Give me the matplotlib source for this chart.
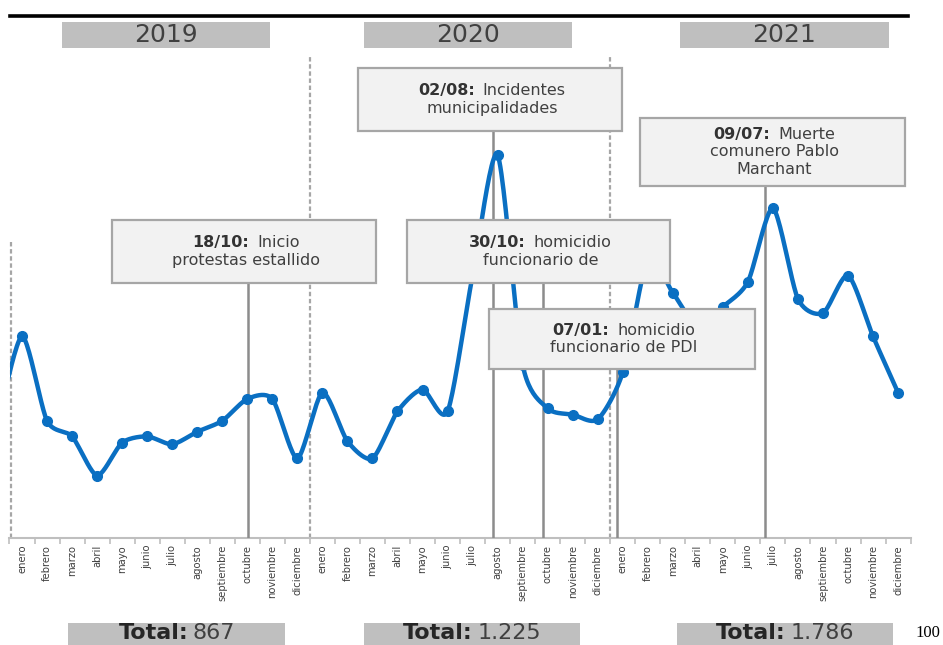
import numpy as np
import matplotlib
matplotlib.use("Agg")
import matplotlib.pyplot as plt
from matplotlib.patches import Rectangle
from matplotlib.lines import Line2D

W, H = 943, 645

meses = ["enero", "febrero", "marzo", "abril", "mayo", "junio", "julio",
         "agosto", "septiembre", "octubre", "noviembre", "diciembre"]
years = ["2019", "2020", "2021"]
totals = ["867", "1.225", "1.786"]

# monthly counts (dic 2018 only shows as the clipped start of the line)
dic_2018 = 71
v2019 = [129, 75, 65, 40, 61, 65, 60, 68, 75, 89, 89, 51]
v2020 = [93, 62, 51, 81, 95, 81, 168, 245, 111, 83, 79, 76]
v2021 = [106, 178, 157, 135, 148, 164, 211, 153, 144, 168, 129, 93]

# event markers: position on the month axis, bold date, text lines
event_pos = [9.03, 18.82, 20.8, 23.77, 29.68]
event_date = ["18/10:", "02/08:", "30/10:", "07/01:", "09/07:"]
event_text = [["Inicio", "protestas estallido"],
              ["Incidentes", "municipalidades"],
              ["homicidio", "funcionario de"],
              ["homicidio", "funcionario de PDI"],
              ["Muerte", "comunero Pablo", "Marchant"]]
# box corners in pixels (x0, y0, x1, y1)
event_box = [(112, 220, 376, 283), (358, 68, 622, 131), (407, 220, 670, 283),
             (489, 309, 755, 369), (640, 118, 905, 186)]

BLUE = "#0a6fc2"
GREY = "#a6a6a6"
DARK = "#404040"


def fx(x):
    return x / W


def fy(y):
    return 1 - y / H


def smooth(xs, ys, n=24, f=1 / 8):
    # smoothed line through the points (bezier, tangents from neighbours)
    p = np.column_stack([xs, ys]).astype(float)
    p = np.vstack([p[0], p, p[-1]])
    t = np.linspace(0, 1, n)[:, None]
    out = []
    for i in range(1, len(p) - 2):
        p0, p1, p2, p3 = p[i - 1], p[i], p[i + 1], p[i + 2]
        c1 = p1 + (p2 - p0) * f
        c2 = p2 - (p3 - p1) * f
        out.append((1 - t) ** 3 * p1 + 3 * (1 - t) ** 2 * t * c1 + 3 * (1 - t) * t ** 2 * c2 + t ** 3 * p2)
    return np.vstack(out)


fig = plt.figure(figsize=(W / 100, H / 100), dpi=100)

# plot area
x0_px, x1_px, base_px, top_px = 9.5, 910.6, 538, 16
ax = fig.add_axes([fx(x0_px), fy(base_px), fx(x1_px - x0_px), (base_px - top_px) / H])
k = 0.64
ax.set_ylim(0, (base_px - top_px) * k)
ax.set_xlim(-0.5, 35.5)

vals = [dic_2018] + v2019 + v2020 + v2021
xs = np.arange(-1, 36)
curve = smooth(xs, vals)
ax.plot(curve[:, 0], curve[:, 1], color=BLUE, lw=3.2, zorder=4, solid_capstyle="round")
ax.plot(xs, vals, "o", color=BLUE, ms=7, zorder=5)

# year separators
for xsep, ytop in [(-0.45, 240), (11.5, 55), (23.5, 55)]:
    ax.axvline(xsep, ymin=0, ymax=(base_px - ytop) / (base_px - top_px),
               color=GREY, lw=1.6, ls=(0, (2, 1.2)), zorder=2, clip_on=False)

# event lines
for pos, box in zip(event_pos, event_box):
    ax.axvline(pos, ymin=0, ymax=(base_px - box[3]) / (base_px - top_px),
               color="#8c8c8c", lw=1.8, zorder=3)

for side in ["left", "right", "top"]:
    ax.spines[side].set_visible(False)
ax.spines["bottom"].set_color("#bfbfbf")
ax.spines["bottom"].set_linewidth(1.5)
ax.set_yticks([])
ax.set_xticks(range(36))
ax.set_xticklabels(meses * 3, rotation=90, fontsize=7.2, color=DARK)
ax.tick_params(axis="x", which="major", length=0, pad=5)
ax.set_xticks(np.arange(-0.5, 36, 1), minor=True)
ax.tick_params(axis="x", which="minor", length=4, color="#bfbfbf", width=1.2)
ax.patch.set_visible(False)

# top rule
fig.add_artist(Line2D([fx(10), fx(908)], [fy(16), fy(16)], color="black", lw=2.6))

# year headers and totals
year_x = [(62, 270), (364, 572), (680, 889)]
total_x = [(68, 285), (364, 580), (677, 893)]
for yr, (a, b) in zip(years, year_x):
    fig.add_artist(Rectangle((fx(a), fy(48)), fx(b - a), 26 / H, facecolor="#bfbfbf",
                             edgecolor="none", zorder=5))
    fig.text(fx((a + b) / 2), fy(35.5), yr, ha="center", va="center", fontsize=18,
             color=DARK, zorder=6)
for (a, b) in total_x:
    fig.add_artist(Rectangle((fx(a), fy(660)), fx(b - a), 37 / H, facecolor="#bfbfbf",
                             edgecolor="none", zorder=5))

renderer = fig.canvas.get_renderer()


def mixed(cx, cy, bold, rest, size, c1, c2, gap):
    t1 = fig.text(0, fy(cy), bold, weight="bold", fontsize=size, color=c1,
                  ha="left", va="center", zorder=7)
    t2 = fig.text(0, fy(cy), rest, fontsize=size, color=c2,
                  ha="left", va="center", zorder=7)
    w1 = t1.get_window_extent(renderer).width
    w2 = t2.get_window_extent(renderer).width
    left = cx - (w1 + gap + w2) / 2
    t1.set_x(fx(left))
    t2.set_x(fx(left + w1 + gap))


for tot, (a, b) in zip(totals, total_x):
    mixed((a + b) / 2, 633, "Total:", tot, 16, "#262626", DARK, 4)

# event boxes
for date, lines, (a, b, c, d) in zip(event_date, event_text, event_box):
    fig.add_artist(Rectangle((fx(a), fy(d)), fx(c - a), (d - b) / H, facecolor="#f2f2f2",
                             edgecolor=GREY, lw=1.6, zorder=6))
    cx = (a + c) / 2 + 2
    n = len(lines)
    step = 17.5
    ymid = (b + d) / 2
    ys = [ymid + (i - (n - 1) / 2) * step for i in range(n)]
    mixed(cx, ys[0], date, lines[0], 11.5, "#333333", DARK, 8)
    for yy, line in zip(ys[1:], lines[1:]):
        fig.text(fx(cx), fy(yy), line, ha="center", va="center", fontsize=11.5,
                 color=DARK, zorder=7)

fig.text(fx(928), fy(633), "100", ha="center", va="center", fontsize=12,
         family="Liberation Serif", color="black")

fig.savefig("out.png", dpi=100)
